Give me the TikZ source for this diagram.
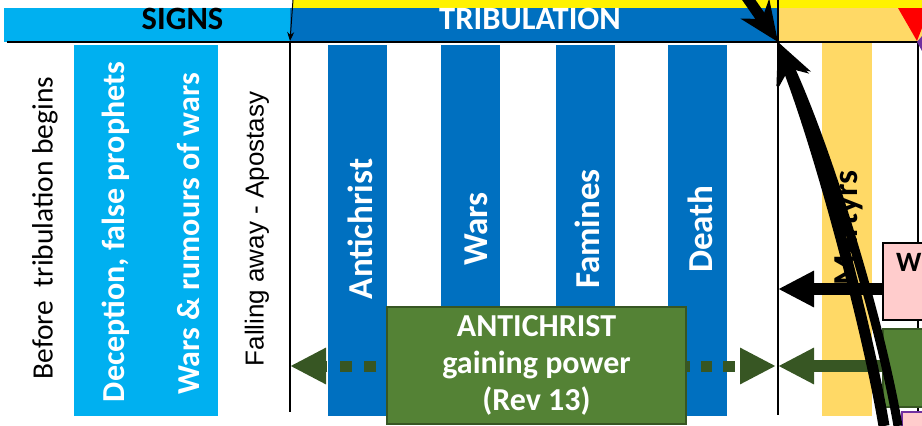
\documentclass[tikz,border=0pt]{standalone}
\usepackage{fontspec}
\setmainfont{Carlito}
\newfontfamily\arialfont{Liberation Sans}
\usetikzlibrary{arrows.meta}
\definecolor{signsblue}{HTML}{00B0F0}
\definecolor{tribblue}{HTML}{0070C0}
\definecolor{martyrgold}{HTML}{FFD966}
\definecolor{beastgreen}{HTML}{548235}
\definecolor{beastdark}{HTML}{375623}
\definecolor{wrathpink}{HTML}{FFCCCC}
\definecolor{sealpurple}{HTML}{7030A0}
\tikzset{>={Triangle[length=36pt,width=34pt]}}
\tikzset{
  headtext/.style={font=\bfseries\fontsize{32.5}{32}\selectfont,inner sep=0pt,anchor=base},
  sidetext/.style={rotate=90,inner sep=0pt},
  coltext/.style={rotate=90,inner sep=0pt,text=white,font=\bfseries\fontsize{35}{35}\selectfont},
  heavyline/.style={line width=#1,-{Stealth[length=40pt,width=34pt,inset=12pt]}},
  dotgreen/.style={draw=beastdark,line width=11pt,->,dash pattern=on 12pt off 12.5pt},
  boxgreen/.style={fill=beastgreen,draw=beastdark,line width=1.5pt,inner sep=0pt},
}

\begin{document}
\begin{tikzpicture}[x=1pt,y=-1pt]
    \useasboundingbox (0,0) rectangle (922,426);
    \clip (0,0) rectangle (922,426);
    \fill[yellow] (293,0) rectangle (922,8);
    \fill[signsblue] (4,8) rectangle (290,42);
    \fill[tribblue] (290,8) rectangle (778,42);
    \fill[martyrgold] (778,8) rectangle (922,42);
    \node[headtext] (signs) at (182.5,29.5) {SIGNS};
    \node[headtext,text=white] (trib) at (530,29.5) {TRIBULATION};
    \fill[signsblue] (74,45) rectangle (218,416);
    \fill[martyrgold] (822,42) rectangle (872,416);
    \foreach \L/\X/\T in {328/360.5/Antichrist,441/476/Wars,556/587/Famines,668/700/Death}
    {\fill[tribblue] (\L,45) rectangle (\L+59,416);
    \node[coltext] (\T) at (\X,229) {\T};
    }
    \node[sidetext,font=\fontsize{29.5}{30}\selectfont] (before) at (45,228) {Before~ tribulation begins};
    \node[sidetext,text=white,font=\bfseries\fontsize{32}{32}\selectfont] (deception) at (116,232) {Deception, false prophets};
    \node[sidetext,text=white,font=\bfseries\fontsize{32}{32}\selectfont] (rumours) at (188,234) {Wars \& rumours of wars};
    \node[sidetext,font=\arialfont\fontsize{26}{26}\selectfont] (falling) at (257,229) {Falling away - Apostasy};
    \node[coltext,text=black] (martyrs) at (849,228) {Martyrs};
    \draw[line width=2.5pt] (7,42) -- (922,42);
    \draw[line width=2pt] (290,42) -- (290,412);
    \draw[line width=2pt] (778,0) -- (778,415);
    \draw[line width=2pt] (918,42) -- (918,426);
    \coordinate (signsfrom) at (293,0);
    \coordinate (signsto) at (290,41);
    \draw[line width=1pt,-{Stealth[length=9pt,width=7pt]}] (signsfrom) -- (signsto);
    \node[boxgreen,minimum width=299,minimum height=117,text=white,align=center,
      font=\bfseries\fontsize{32}{37}\selectfont] (beast) at (536.5,365.5) {ANTICHRIST\\gaining power\\(Rev 13)};
    \node[boxgreen,minimum width=80,minimum height=78,anchor=north west] (rgreen) at (882,328) {};
    \node[fill=wrathpink,draw,line width=1.5pt,minimum width=80,minimum height=77,anchor=north west] (wrath) at (882,242) {};
    \node[font=\bfseries\fontsize{28}{28}\selectfont,anchor=base west,inner sep=0pt] (wrathlbl) at (896,271) {W};
    \node[fill=wrathpink,draw=sealpurple,line width=2pt,minimum width=40,minimum height=30,anchor=north west] (seal) at (901,411) {};
    \coordinate (gtipl) at (290,366);
    \coordinate (gtipm) at (776,366);
    \coordinate (gtipr) at (778,366);
    \coordinate (wtip) at (778,289);
    \draw[dotgreen,dash phase=14.5pt] (beast.west |- gtipl) -- (gtipl);
    \draw[dotgreen,dash pattern=on 11.5pt off 11pt,dash phase=8.5pt] (beast.east |- gtipm) -- (gtipm);
    \draw[beastdark,line width=12pt,->] (rgreen.west |- gtipr) -- (gtipr);
    \draw[line width=12pt,->] (wrath.west |- wtip) -- (wtip);
    \coordinate (tip) at (778,42);
    \coordinate (upper) at (728,-30);
    \coordinate (lowa) at (884,426);
    \coordinate (lowb) at (898,426);
    \draw[heavyline=11pt] (lowa) .. controls (868,330) and (820,150) .. (tip);
    \draw[heavyline=9pt] (lowb) .. controls (880,320) and (828,150) .. (tip);
    \draw[heavyline=11pt] (upper) -- (tip);
    \fill[red] (898,8) -- (922,8) -- (922,28) -- (917,41) -- cycle;
    \fill[sealpurple] (917,42) -- (922,36) -- (922,51) -- cycle;
\end{tikzpicture}
\end{document}
